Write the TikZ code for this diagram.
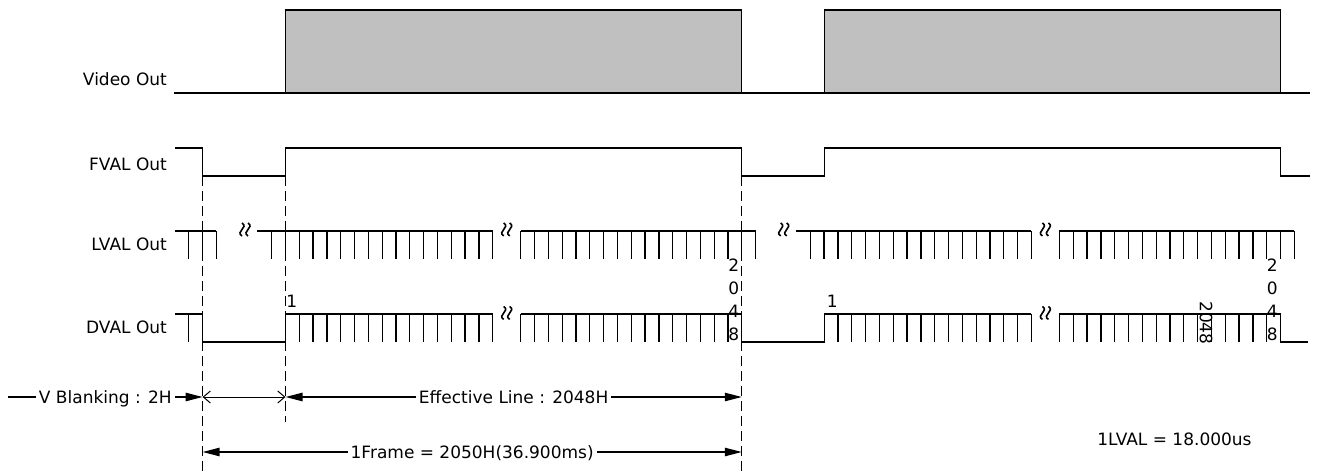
\documentclass[tikz,border=0pt]{standalone}
\usepackage{fontspec}
\setmainfont{DejaVu Sans}
\usetikzlibrary{arrows.meta}

\definecolor{boxgray}{RGB}{192,192,192}

% break mark: two wavy strokes
\newcommand{\brkmark}[2]{%
  \foreach \s in {-3,3} {
    \draw[brk] ({#1+\s},{#2-6.5})
      .. controls ({#1+\s+7},{#2-2}) and ({#1+\s-7},{#2+2}) .. ({#1+\s},{#2+6.5});
  }}

\begin{document}
\begin{tikzpicture}[x=0.5pt, y=-0.5pt, line width=0.65pt,
    lbl/.style={font=\fontsize{8.5pt}{11.5pt}\selectfont, inner sep=0pt},
    dimlbl/.style={lbl, fill=white, inner xsep=1.5pt, inner ysep=1pt,
      text height=6.2pt, text depth=0pt},
    bigtip/.style={-{Triangle[length=8.5pt, width=4.2pt]}},
    dimline/.style={{Triangle[length=8.5pt, width=4.2pt]}-{Triangle[length=8.5pt, width=4.2pt]}},
    smalltip/.style={{Straight Barb[length=3.5pt, width=6pt]}-{Straight Barb[length=3.5pt, width=6pt]}, line width=0.5pt},
    guide/.style={dash pattern=on 5pt off 2.5pt},
    brk/.style={line width=0.8pt}]

    % Parameters
    \def\pitch{13.82}
    \def\frameoff{538.7}
    \def\tA{202.6}
    \def\tB{285.5}
    \def\tC{741.8}
    \def\gA{271.6}
    \def\gB{520.7}
    \def\xEnd{1310}
    \def\yLt{231}
    \def\yDt{314}
    \def\yDb{342}
    \pgfmathsetmacro{\sA}{\gA+16*\pitch}
    \pgfmathsetmacro{\sB}{\gB+17*\pitch}

    \useasboundingbox (0,0) rectangle (1317,476);

    % Row labels
    \node[lbl, anchor=base east] (video) at (167.5,86)  {Video Out};
    \node[lbl, anchor=base east] (fval)  at (167.5,170) {FVAL Out};
    \node[lbl, anchor=base east] (lval)  at (167.5,250) {LVAL Out};
    \node[lbl, anchor=base east] (dval)  at (167.5,333) {DVAL Out};

    % Video out
    \draw (174,93) -- (\xEnd,93);
    \foreach \o in {0,\frameoff}
        \draw[fill=boxgray] ({\tB+\o},10) rectangle ({\tC+\o},93);

    % FVAL
    \draw (175,148) -| (\tA,176) -| (\tB,148) -| (\tC,176)
        -| ({\tB+\frameoff},148) -| ({\tC+\frameoff},176) -- (\xEnd,176);

    % LVAL, lines before the first break
    \draw (175,\yLt) -- ({\gA-4*\pitch},\yLt);
    \foreach \k in {4,5,6}
        \draw ({\gA-\k*\pitch},\yLt) -- ++(0,28);
    \brkmark{245}{229.5}

    % LVAL, both frames
    \foreach \o in {0,\frameoff} {
        \draw ({\gA-14.3+\o},\yLt) -- ({\sA+\o},\yLt);
        \foreach \k in {0,...,16}
            \draw ({\gA+\k*\pitch+\o},\yLt) -- ++(0,28);
        \brkmark{506.7+\o}{229.5}
        \draw ({\gB+\o},\yLt) -- ({\sB+\o},\yLt);
        \foreach \k in {0,...,17}
            \draw ({\gB+\k*\pitch+\o},\yLt) -- ++(0,28);
    }
    \brkmark{245+\frameoff}{229.5}

    % DVAL
    \draw (175,\yDt) -| (\tA,\yDb) -| (\tB,\yDt) -- (\sA,\yDt);
    \draw ({\gA-6*\pitch},\yDt) -- ++(0,28);
    \draw (\gB,\yDt) -| (\tC,\yDb) -| ({\tB+\frameoff},\yDt) -- ({\sA+\frameoff},\yDt);
    \draw ({\gB+\frameoff},\yDt) -| ({\tC+\frameoff},\yDb) -- (1308,\yDb);
    \foreach \o in {0,\frameoff} {
        \foreach \k in {2,...,16}
            \draw ({\gA+\k*\pitch+\o},\yDt) -- ++(0,28);
        \brkmark{506.7+\o}{313}
        \foreach \k in {0,...,15}
            \draw ({\gB+\k*\pitch+\o},\yDt) -- ++(0,28);
    }

    % Line numbers
    \node[lbl] (firstA) at (291.7,301.7) {1};
    \node[lbl] (firstB) at (832.3,301.7) {1};
    \node[lbl, align=center] (lastA) at (733.8,300) {2\\0\\4\\8};
    \node[lbl, align=center] (lastB) at (1272.3,300) {2\\0\\4\\8};
    \node[lbl, rotate=-90] (count) at (1206,323) {2048};

    % Dashed guides
    \draw[guide] (\tA,176) -- (\tA,476);
    \draw[guide] (\tB,176) -- (\tB,422);
    \draw[guide] (\tC,176) -- (\tC,476);

    % Timing arrows
    \coordinate (vbL) at (8,397);
    \coordinate (vbR) at (\tA,397);
    \coordinate (elL) at (\tB,397);
    \coordinate (elR) at (\tC,397);
    \coordinate (frL) at (\tA,452);
    \coordinate (frR) at (\tC,452);
    \draw[bigtip] (vbL) -- (vbR) node[dimlbl, midway] (vblank) {V Blanking : 2H};
    \draw[smalltip] (vbR) -- (elL);
    \draw[dimline] (elL) -- (elR) node[dimlbl, midway] (effline) {Effective Line : 2048H};
    \draw[dimline] (frL) -- (frR) node[dimlbl, midway] (frame) {1Frame = 2050H(36.900ms)};

    \node[lbl] (lvaltime) at (1174.5,439) {1LVAL = 18.000us};

\end{tikzpicture}
\end{document}
